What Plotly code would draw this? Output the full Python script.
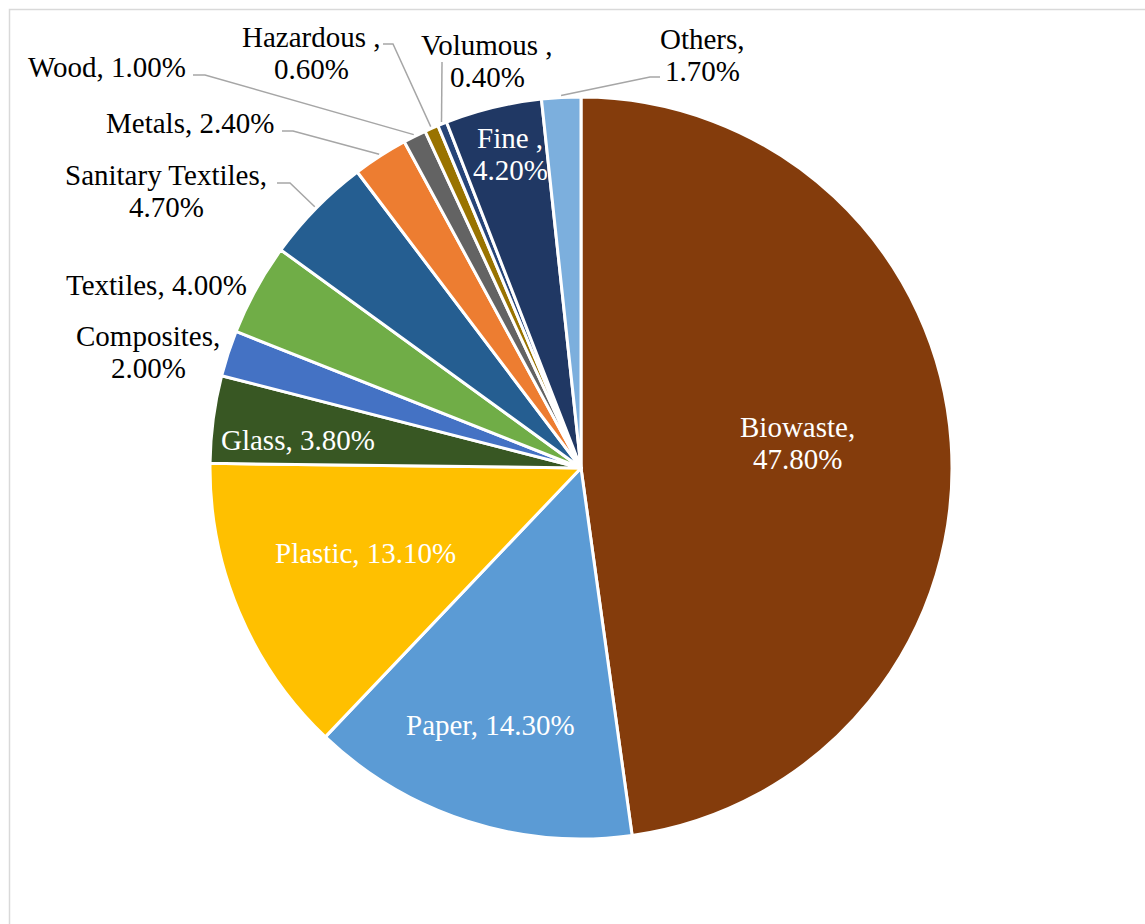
import math
import plotly.graph_objects as go

# Waste composition (share of total, %), clockwise from 12 o'clock
categories = ["Biowaste", "Paper", "Plastic", "Glass", "Composites", "Textiles",
              "Sanitary Textiles", "Metals", "Wood", "Hazardous", "Volumous",
              "Fine", "Others"]
shares = [47.8, 14.3, 13.1, 3.8, 2.0, 4.0, 4.7, 2.4, 1.0, 0.6, 0.4, 4.2, 1.7]
colors = ["#843C0C", "#5B9BD5", "#FFC000", "#385723", "#4472C4", "#70AD47",
          "#255E91", "#ED7D31", "#636363", "#997300", "#264478", "#203864",
          "#7CAFDD"]

W, H = 1145, 924
CX, CY, R = 581, 468, 371
FONT = "Liberation Serif"
FS = 29


def px(x):
    return x / W


def py(y):
    return 1 - y / H


fig = go.Figure(go.Pie(
    labels=categories,
    values=shares,
    sort=False,
    direction="clockwise",
    rotation=0,
    marker=dict(colors=colors, line=dict(color="white", width=3)),
    textinfo="none",
    hoverinfo="label+percent",
    showlegend=False,
    domain=dict(x=[px(CX - R), px(CX + R)], y=[py(CY + R), py(CY - R)]),
))

# Label placement: centre x, first-line centre y, colour, text lines
label_layout = {
    "Biowaste": (797, 427, "white", ["{name},", "{val}"]),
    "Paper": (490, 725, "white", ["{name}, {val}"]),
    "Plastic": (365, 553, "white", ["{name}, {val}"]),
    "Glass": (298, 440, "white", ["{name}, {val}"]),
    "Composites": (148, 336, "black", ["{name},", "{val}"]),
    "Textiles": (156, 285, "black", ["{name}, {val}"]),
    "Sanitary Textiles": (166, 175, "black", ["{name},", "{val}"]),
    "Metals": (190, 123, "black", ["{name}, {val}"]),
    "Wood": (107, 67, "black", ["{name}, {val}"]),
    "Hazardous": (311, 37, "black", ["{name} ,", "{val}"]),
    "Volumous": (487, 45, "black", ["{name} ,", "{val}"]),
    "Fine": (510, 138, "white", ["{name} ,", "{val}"]),
    "Others": (702, 39, "black", ["{name},", "{val}"]),
}
LINE_GAP = 32

annotations = []
for name, val in zip(categories, shares):
    x, y0, col, lines = label_layout[name]
    for i, tmpl in enumerate(lines):
        annotations.append(dict(
            x=px(x), y=py(y0 + i * LINE_GAP), xref="paper", yref="paper",
            text=tmpl.format(name=name, val=f"{val:.2f}%"),
            showarrow=False, xanchor="center", yanchor="middle",
            font=dict(family=FONT, size=FS, color=col),
        ))

# Leader lines: label-side points, then the slice's mid-angle on the rim
leaders = {
    "Sanitary Textiles": [(277, 183), (290, 183)],
    "Metals": [(282, 131), (293, 131)],
    "Wood": [(193, 75), (205, 75)],
    "Hazardous": [(383, 44), (393, 44)],
    "Volumous": [(442, 62)],
    "Others": [(660, 77), (650, 77)],
}

shapes = []
cum = 0.0
total = sum(shares)
for name, val in zip(categories, shares):
    mid = (cum + val / 2) / total * 2 * math.pi
    cum += val
    if name not in leaders:
        continue
    rim = (CX + (R + 2) * math.sin(mid), CY - (R + 2) * math.cos(mid))
    pts = leaders[name] + [rim]
    path = "M " + " L ".join(f"{px(a):.5f},{py(b):.5f}" for a, b in pts)
    shapes.append(dict(type="path", xref="paper", yref="paper", path=path,
                       line=dict(color="#A6A6A6", width=1.5)))

# Chart frame
shapes.append(dict(type="rect", xref="paper", yref="paper",
                   x0=px(9.5), y0=py(9.5), x1=px(W + 20), y1=py(H + 20),
                   line=dict(color="#D9D9D9", width=1.5)))

fig.update_layout(
    width=W, height=H,
    margin=dict(l=0, r=0, t=0, b=0),
    paper_bgcolor="white",
    plot_bgcolor="white",
    font=dict(family=FONT),
    annotations=annotations,
    shapes=shapes,
)

fig.write_html("out.html")
